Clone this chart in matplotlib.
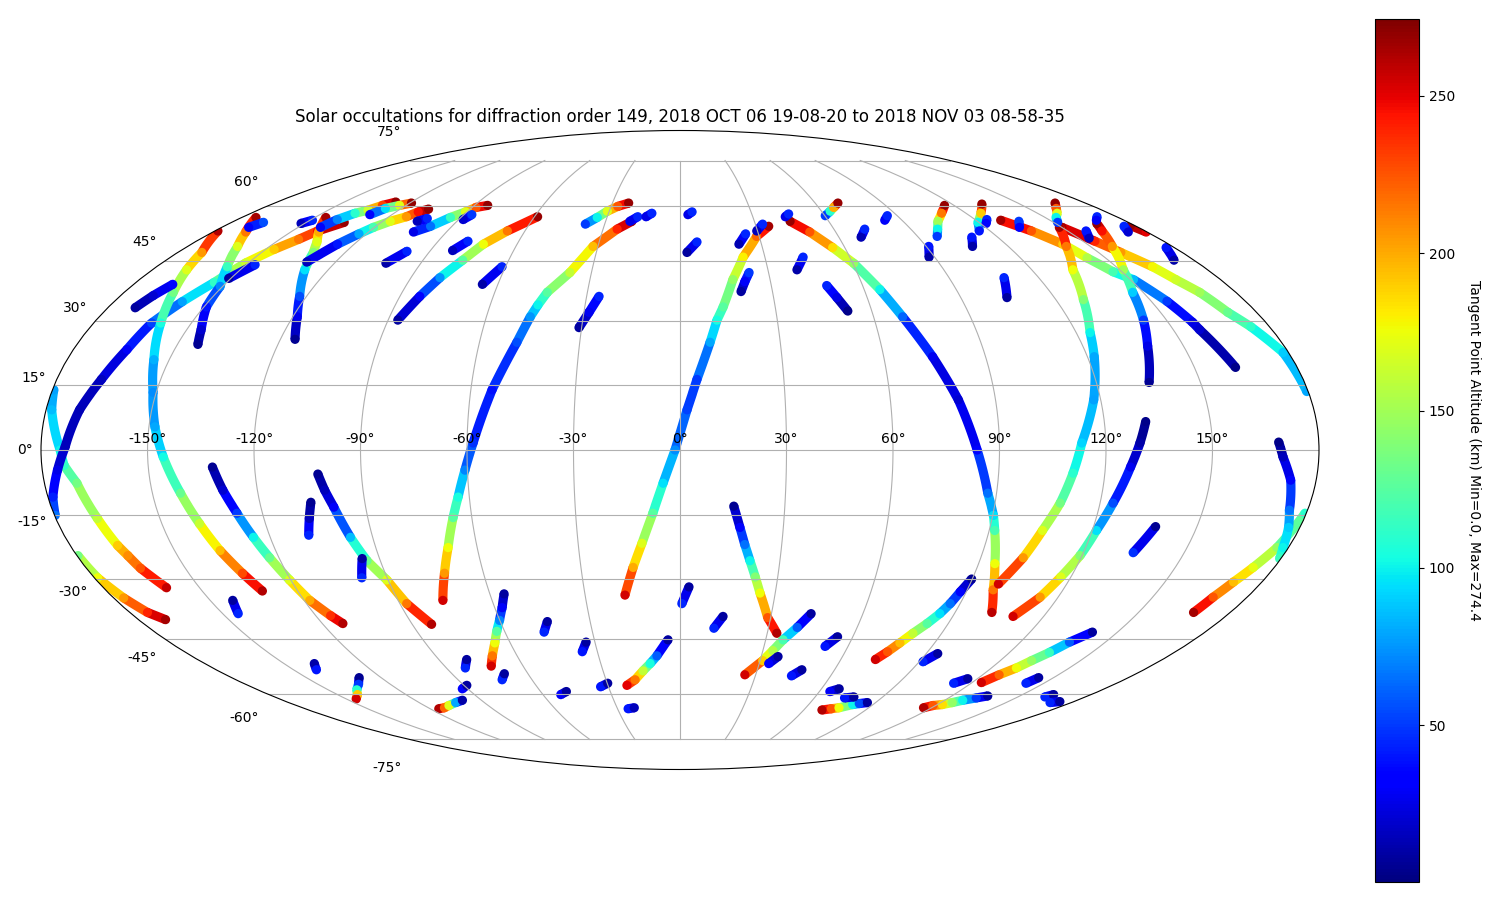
import numpy as np
import matplotlib
matplotlib.use("Agg")
import matplotlib.pyplot as plt
from matplotlib.collections import LineCollection
from matplotlib.colors import Normalize

TITLE = "Solar occultations for diffraction order 149, 2018 OCT 06 19-08-20 to 2018 NOV 03 08-58-35"
CBAR_LABEL = "Tangent Point Altitude (km) Min=0.0, Max=274.4"
ALT_MIN = 0.2
ALT_MAX = 274.4
CBAR_TICKS = [50, 100, 150, 200, 250]

# one entry per occultation: longitude, latitude (degrees), altitude (km)
track_lon = [
    [130, 136, 141, 143.5, 147, 151, 155, 157.5, 158, 162],
    [150, 154.4, 158, 162.5, 165.1, 168.3, 171, 174.3, 178.4, 179.6],
    [-179.6, -178.4, -174.6, -173.7, -170.8, -168, -166, -164.8, -163.6, -160.3],
    [-179.7, -179, -176.8, -174.2, -171],
    [179.6, 176.6, 173.6, 171.2, 169.2, 168],
    [168.7, 169.9, 172.8, 174.8, 176.7, 178.4, 179.6],
    [-179.8, -178.6, -175.7, -173.2, -170.5, -167.1, -164.1, -162.2, -158.3, -154.1, -152.5, -150.9, -146.9, -142.9, -140.2, -134.8],
    [-178.8, -171.4, -168.3, -164.1, -159.4, -154.5, -150.9, -148.3, -145.6, -142, -139.1, -136.5, -133.6, -131.1],
    [-171.4, -169.5, -167.1],
    [-143.9, -145.6, -149.2, -150.8, -155.7, -161.7, -167.3, -174.2],
    [-115.6, -118.6, -122.2, -128, -131.4, -134.7, -139.2, -145.5],
    [-130, -126.1, -122.8, -120.4, -116.9, -112.8, -110.6, -107.8],
    [-141.2, -139.4, -136.3, -133, -130.3, -126.9],
    [-129.2, -126.8, -122.8, -119.2],
    [-87, -83.6, -80.3, -76.1, -72.4, -66.8, -58.7],
    [-102.7, -98.4, -94.3, -90.6, -88.3, -84.2],
    [-75.7, -71.9, -68.6, -65.4, -63.2, -60.7, -58.3, -53.9, -48.8, -46.4, -44.9, -43, -37.3, -31.8, -24.5, -19.4],
    [-17.4, -14.2, -11.2, -7.8, -4.8, -1.4, 2, 4.9, 9, 11.4, 13.6, 17.6, 22.3, 29, 35],
    [44.4, 50, 55.6, 60.3, 65.1, 69, 74.4, 79.4, 83.7, 87.5, 90.2, 91.6, 94.9, 98.1, 102],
    [98.8, 102.7, 105.5, 108.6, 111, 113.2, 118, 122, 124.2, 128.8, 134, 141.2, 149],
    [109.9, 114.3, 116.9, 119.4, 121.2, 123.7, 127.1, 129.6, 131.7],
    [166.5, 163.3, 158, 151.2, 146.6, 142.9, 139.3, 135.2],
    [-131.9, -129.8, -127.3, -124.9, -122.8, -120.4, -118.2, -115.1, -113.1],
    [-102.3, -100.9, -99.1, -96.5, -94, -90.4, -87.8, -83.5],
    [15.4, 17.4, 19.1, 21, 23.1, 25.2, 29, 33.3],
    [25.7, 31, 33.6, 36.1, 39.7, 43],
    [72.9, 75.4, 77.7, 80.1, 82.9, 85.2, 86.8, 88.1, 89.8],
    [123.8, 126.5, 129.6, 131.7, 134.5, 137.3, 141.4],
    [-72.2, -69.1, -65.4, -62.7, -60.1, -57.6, -55.5],
    [-22.1, -18.2, -14.4, -11.3, -8.5, -4.2],
    [-115.8, -112.3, -108.4, -103.2, -98.6],
    [68.8, 72.7, 75.8, 80.5, 83, 86.2],
    [116.1, 118.7, 122.3, 125.2, 128.1, 132.3, 135.8],
    [-128.8, -133.2, -137.8, -141.2, -145.5],
    [166.5, 161.9, 158.2, 154.5, 151.6],
    [115.8, 109.7, 104, 100.4, 97.4],
    [133.2, 126.2, 119.6, 115.8],
    [-37.7, -34, -30.8, -27.1, -22.8],
    [60.2, 63.7, 66.5, 70.1],
    [178.3, 179.6],
    [-151.4, -149],
    [-169.4, -167.2],
    [-150.7, -146.9],
    [-102.1, -98.2],
    [-106, -103.3],
    [-88.2, -86.7],
    [-82, -78.9],
    [-65.1, -61.2],
    [-30.8, -28.4, -26],
    [-20.2, -17.4],
    [-14, -11.8],
    [3.3, 5.1],
    [2.5, 6.3],
    [21.7, 25.1],
    [29.7, 32.9],
    [19.8, 21.5, 23.4],
    [43.4, 45.4],
    [39.9, 43.5],
    [48.2, 50.3, 52.5],
    [68.4, 72],
    [83, 85.9],
    [136.7, 133.3],
    [157.1, 153.9],
    [171.9, 168.8],
    [175.2, 172.7],
    [177, 173],
    [108.4, 104.8],
    [90.9, 88],
    [110.2, 106.9],
    [124.8, 122.3],
    [134.8, 138],
    [-105.4, -106.9, -108.5],
    [-95.2, -97.8],
    [-142.8, -144.9],
    [-138.5, -141.1],
    [-46.6, -44.3],
    [-35.5, -33.1],
    [0.6, 2.8],
    [-82.7, -79.6],
    [-72.1, -69.3],
    [-92.3, -88.8],
    [-52.2, -48.9],
    [-33.3, -29.8],
    [-24.9, -21.8],
    [11.5, 14.2],
    [33.6, 36.2],
    [44.4, 47.3],
    [51.8, 54.7],
    [64.5, 67.5],
    [73.5, 77.2],
    [91.4, 94.2],
    [112.8, 116.1],
    [142.6, 144],
    [162, 163.6],
    [170.2, 173.6],
]

track_lat = [
    [56, 53, 49.4, 45.8, 42.2, 40.2, 34.8, 29.7, 27.9, 19],
    [54, 50.2, 47.2, 43.5, 40.2, 37, 32.1, 28.6, 22.5, 13.4],
    [13.8, 9.2, 0, -3.5, -7.6, -15.7, -22, -24.4, -27.4, -32.1],
    [-24.4, -29.7, -34.6, -38.2, -40],
    [-14.5, -22.5, -27.2, -30.7, -34.4, -38.2],
    [1.8, -1.6, -6.9, -13.8, -17.8, -22.5, -25.1],
    [-15, -10.8, -4.6, 0.7, 9.2, 16.2, 23.2, 29.5, 34.7, 39.5, 42, 44.5, 48, 50.7, 53, 55.4],
    [53, 47.2, 42.7, 37, 29.5, 20.8, 13.2, 5.3, -1.6, -9.9, -16.9, -23.2, -28.6, -32.9],
    [33.2, 36.2, 39],
    [24.4, 27.9, 33.4, 38.5, 43.5, 48.8, 52.7, 56.8],
    [25.6, 31, 36, 42.7, 47.2, 50, 52.7, 56.8],
    [44.7, 49.4, 52.2, 54, 55.7, 57, 58.4, 59.2],
    [54, 56.2, 58, 58.9, 60.3, 61.3],
    [57.6, 59.4, 60.3, 61],
    [30.2, 36, 40.7, 45.2, 49.4, 53, 57],
    [52.7, 54.3, 56.8, 58.4, 59.7, 60.3],
    [-35.2, -28.6, -22.5, -15.5, -10.8, -4.6, 1.6, 13.8, 24.9, 31, 33.9, 37, 42, 48.8, 53.5, 55.7],
    [-33.9, -27.2, -21.5, -14.5, -7.6, 0, 9.2, 16.2, 24.9, 30.2, 33.4, 40.2, 46, 51.5, 54.3],
    [55.7, 52.7, 48.5, 44.4, 37.7, 31, 21.5, 11.5, 0, -9.9, -15, -18.5, -26.3, -32.6, -38.2],
    [-31.2, -24.9, -18.5, -12.2, -5.3, 1.6, 11.5, 21.5, 27.2, 35.2, 42.7, 48.8, 54],
    [-39.2, -34.4, -29.5, -24.4, -18.5, -12.2, -3.9, 1.6, 6.5],
    [55.1, 53, 48.8, 42.7, 37, 30.2, 24, 15.5],
    [-3.9, -9.2, -14.5, -20.1, -24.9, -30.2, -35.2, -39, -41],
    [-5.5, -9.2, -13.1, -20.1, -25.6, -30.2, -36, -41.2],
    [-12.9, -17.8, -21.8, -25.6, -29.5, -33.4, -39.5, -43.5],
    [-54.6, -50.7, -48, -45.2, -42, -38.5],
    [-50.4, -48.3, -46, -43.5, -41, -38.5, -36, -33.1, -30],
    [-56.8, -54.6, -52.7, -50.7, -48.5, -45.8, -43.2],
    [-52.2, -49.4, -46, -43, -40.2, -37, -33.6],
    [-57.6, -56, -53.5, -51.5, -49.4, -45.2],
    [-64.6, -64.3, -63.6, -62.7, -62],
    [-65, -64.6, -64.3, -63.3, -63, -62.7],
    [-64.3, -63.6, -63.3, -62.7, -62, -61.3, -60.7],
    [-55.4, -57.3, -58.9, -60.3, -61.6],
    [61, 59.4, 58, 56.8, 55.4],
    [60.3, 58, 55.7, 53.5, 51.5],
    [60.7, 58, 55.4, 53],
    [54.9, 56.8, 58.6, 60, 61],
    [57.3, 58.6, 59.7, 61],
    [54.5, 52.7],
    [55.1, 56],
    [54, 55.4],
    [40.5, 44],
    [44.4, 47.5],
    [55.7, 56.5],
    [56.2, 57.6],
    [47.7, 50.2],
    [39, 43.5],
    [28.4, 32.1, 36],
    [55.7, 57],
    [57, 58],
    [57.6, 58.4],
    [47.2, 50],
    [49.4, 52.2],
    [53, 54.9],
    [37.2, 39.7, 42],
    [57, 57.8],
    [42.7, 46],
    [38.7, 35.7, 32.4],
    [51.3, 53.5],
    [56, 57.3],
    [55.7, 54],
    [53, 51],
    [57, 56],
    [54.3, 52.7],
    [48.5, 45.2],
    [40.7, 35.7],
    [48.8, 46],
    [51.3, 48.8],
    [56.2, 55.1],
    [-23.7, -17.6],
    [-12, -15.7, -19.6],
    [-25.1, -29.7],
    [-35.2, -38.5],
    [-51.5, -53.2],
    [-43.2, -40.5],
    [-48.3, -45.8],
    [-36, -31.9],
    [-52.7, -50.4],
    [-56, -54.3],
    [-58.6, -57.6],
    [-60.3, -59.4],
    [-58, -57],
    [-64.6, -64.3],
    [-42.2, -39.2],
    [-51.5, -49.6],
    [-54.9, -53.2],
    [-46.9, -44.4],
    [-59.4, -58.6],
    [-61.3, -61],
    [-51, -48.8],
    [-57, -55.7],
    [-57, -55.4],
    [-61, -60.3],
    [-62.7, -62.4],
]

track_alt = [
    [265, 225, 190, 155, 120, 85, 50, 25, 20, 3],
    [265, 240, 205, 178, 165, 150, 130, 112, 90, 80],
    [78, 85, 100, 112, 135, 160, 190, 208, 225, 258],
    [135, 175, 205, 240, 265],
    [110, 145, 172, 195, 225, 265],
    [3, 15, 35, 65, 90, 100, 115],
    [65, 42, 25, 15, 14, 16, 30, 52, 78, 112, 140, 165, 190, 215, 245, 268],
    [262, 205, 170, 135, 105, 82, 72, 80, 102, 130, 162, 195, 228, 262],
    [8, 20, 35],
    [5, 20, 40, 70, 115, 170, 215, 265],
    [5, 28, 55, 95, 140, 170, 200, 265],
    [15, 40, 80, 120, 170, 205, 245, 270],
    [30, 70, 110, 165, 230, 270],
    [35, 95, 170, 270],
    [8, 35, 75, 125, 175, 215, 268],
    [25, 65, 115, 170, 225, 270],
    [255, 205, 175, 125, 105, 70, 48, 38, 55, 75, 100, 125, 160, 195, 240, 268],
    [255, 200, 170, 125, 95, 72, 52, 50, 80, 105, 125, 145, 180, 220, 265],
    [268, 225, 185, 145, 100, 62, 28, 20, 35, 65, 95, 120, 175, 215, 260],
    [255, 205, 170, 135, 110, 92, 78, 80, 100, 140, 175, 215, 265],
    [255, 205, 170, 140, 95, 55, 28, 10, 3],
    [268, 245, 205, 150, 90, 50, 25, 5],
    [5, 20, 50, 100, 130, 170, 200, 235, 262],
    [5, 15, 30, 85, 130, 170, 215, 262],
    [5, 35, 65, 100, 140, 175, 225, 262],
    [255, 190, 155, 120, 60, 8],
    [255, 225, 195, 160, 125, 95, 65, 35, 5],
    [255, 220, 175, 145, 115, 60, 8],
    [255, 215, 175, 125, 70, 30, 8],
    [250, 215, 160, 105, 60, 8],
    [262, 220, 170, 80, 10],
    [262, 225, 175, 100, 55, 8],
    [262, 225, 185, 145, 100, 50, 8],
    [5, 50, 110, 190, 255],
    [270, 225, 170, 100, 50],
    [268, 215, 150, 100, 50],
    [268, 190, 100, 40],
    [50, 100, 170, 225, 268],
    [50, 110, 200, 268],
    [268, 250],
    [15, 45],
    [30, 55],
    [8, 45],
    [10, 45],
    [15, 45],
    [20, 50],
    [15, 45],
    [10, 45],
    [8, 28, 45],
    [25, 45],
    [25, 45],
    [25, 45],
    [8, 45],
    [12, 45],
    [15, 45],
    [8, 30, 50],
    [25, 45],
    [10, 45],
    [45, 25, 3],
    [12, 45],
    [30, 45],
    [50, 35],
    [40, 15],
    [45, 30],
    [45, 20],
    [40, 10],
    [45, 8],
    [40, 10],
    [40, 10],
    [45, 35],
    [48, 5],
    [5, 15, 45],
    [8, 45],
    [8, 45],
    [10, 40],
    [45, 8],
    [40, 8],
    [45, 8],
    [45, 8],
    [45, 8],
    [35, 8],
    [30, 8],
    [40, 8],
    [40, 15],
    [45, 8],
    [35, 8],
    [40, 8],
    [40, 8],
    [30, 8],
    [40, 8],
    [45, 8],
    [45, 8],
    [45, 8],
    [45, 8],
    [45, 8],
]

fig = plt.figure(figsize=(15, 9), dpi=100)
ax = fig.add_axes([41 / 1500, 130.5 / 900, 1278 / 1500, 639 / 900], projection="mollweide")
ax.grid(True)

norm = Normalize(ALT_MIN, ALT_MAX)
for lon, lat, alt in zip(track_lon, track_lat, track_alt):
    x = np.radians(lon)
    y = np.radians(lat)
    alt = np.array(alt, dtype=float)
    pts = np.column_stack([x, y])
    segs = np.stack([pts[:-1], pts[1:]], axis=1)
    lc = LineCollection(segs, cmap="jet", norm=norm, linewidths=6.6, capstyle="butt", zorder=1)
    lc.set_array((alt[:-1] + alt[1:]) / 2)
    ax.add_collection(lc)
    sc = ax.scatter(x, y, c=alt, cmap="jet", norm=norm, s=44, linewidths=0, zorder=1)

ax.set_title(TITLE)

cax = fig.add_axes([1375 / 1500, 18 / 900, 44 / 1500, 863 / 900])
cbar = fig.colorbar(sc, cax=cax)
cbar.set_ticks(CBAR_TICKS)
cbar.set_label(CBAR_LABEL, rotation=270, labelpad=19)

fig.savefig("out.png", dpi=100)
